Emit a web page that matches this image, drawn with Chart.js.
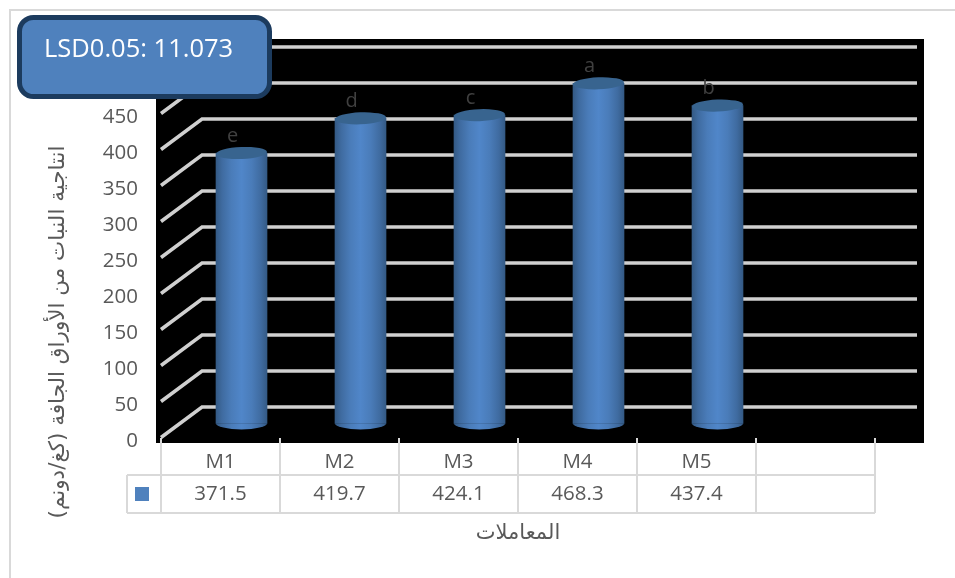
<!DOCTYPE html>
<html>
<head>
<meta charset="utf-8">
<title>chart</title>
<script src="https://cdn.jsdelivr.net/npm/chart.js@4"></script>
<style>
  html, body { margin: 0; padding: 0; background: #fff; }
  canvas { display: block; }
</style>
</head>
<body>
<canvas id="grafico" width="955" height="578"></canvas>
<script>
const categorias = ["M1", "M2", "M3", "M4", "M5", ""];
const valores = [371.5, 419.7, 424.1, 468.3, 437.4, null];
const letras = ["e", "d", "c", "a", "b", ""];
const ticksY = [0, 50, 100, 150, 200, 250, 300, 350, 400, 450, 500];
const tituloY = "انتاجية النبات من الأوراق الجافة (كغ/دونم)";
const tituloX = "المعاملات";
const textoLsd = "LSD0.05: 11.073";

const FONT = '"Open Sans", "Noto Sans", sans-serif';
const GRIS = "#595959";
const LINEA = "#d9d9d9";
const AZUL = "#4f81bd";
const anchoBarra = 51;

function caja(ctx, x, y, w, h, r){
  ctx.beginPath();
  ctx.roundRect(x, y, w, h, r);
}

function degradado(ctx, cx){
  const g = ctx.createLinearGradient(cx - anchoBarra/2, 0, cx + anchoBarra/2, 0);
  g.addColorStop(0, "#345a85");
  g.addColorStop(0.12, "#3f6ba0");
  g.addColorStop(0.3, "#4a7cb9");
  g.addColorStop(0.5, "#5086c9");
  g.addColorStop(0.7, "#4a7cb9");
  g.addColorStop(0.88, "#3f6ba0");
  g.addColorStop(1, "#345a85");
  return g;
}

// fondo negro, paredes 3D y rejilla
const fondo3d = {
  id: "fondo3d",
  beforeDraw(chart){
    const { ctx, scales: { x, y } } = chart;
    ctx.save();
    ctx.fillStyle = "#fff";
    ctx.fillRect(0, 0, 955, 578);
    ctx.strokeStyle = LINEA;
    ctx.lineWidth = 2;
    ctx.beginPath();
    ctx.moveTo(955, 10); ctx.lineTo(10, 10); ctx.lineTo(10, 578);
    ctx.stroke();
    ctx.fillStyle = "#000";
    ctx.fillRect(156, 39, 768, 404);
    ctx.strokeStyle = "#d0d0d0";
    ctx.lineWidth = 3.5;
    ticksY.forEach(t => {
      const py = y.getPixelForValue(t);
      ctx.beginPath();
      ctx.moveTo(x.left, py - 1);
      ctx.lineTo(x.left + 41, py - 31.5);
      ctx.lineTo(917, py - 31.5);
      ctx.stroke();
    });
    ctx.restore();
  },
  beforeDatasetsDraw(chart){
    // las barras van en mitad de la profundidad
    chart.ctx.save();
    chart.ctx.translate(21, -18);
  },
  afterDatasetsDraw(chart){
    const { ctx } = chart;
    const meta = chart.getDatasetMeta(0);
    meta.data.forEach((bar, i) => {
      if (valores[i] == null) return;
      ctx.fillStyle = degradado(ctx, bar.x);
      ctx.beginPath();
      ctx.ellipse(bar.x, bar.base, anchoBarra/2, 6, 0, 0, Math.PI);
      ctx.fill();
      ctx.fillStyle = "#38648f";
      ctx.beginPath();
      ctx.ellipse(bar.x, bar.y, anchoBarra/2, 6, -0.04, 0, Math.PI*2);
      ctx.fill();
    });
    ctx.restore();
  },
  afterDraw(chart){
    const { ctx, scales: { x, y } } = chart;
    ctx.save();

    // letras sobre las barras
    ctx.font = "20px " + FONT;
    ctx.textAlign = "center";
    ctx.textBaseline = "middle";
    ctx.fillStyle = "#404040";
    letras.forEach((l, i) => {
      if (!l) return;
      ctx.fillText(l, x.getPixelForValue(i) + 12, y.getPixelForValue(valores[i]) - 35);
    });

    // tabla de datos
    const paso = x.getPixelForValue(1) - x.getPixelForValue(0);
    ctx.strokeStyle = LINEA;
    ctx.lineWidth = 2;
    ctx.beginPath();
    for (let i = 0; i <= categorias.length; i++){
      const px = x.left + paso*i;
      ctx.moveTo(px, 438);
      ctx.lineTo(px, 513);
    }
    ctx.moveTo(127, 475); ctx.lineTo(x.right, 475);
    ctx.moveTo(127, 513); ctx.lineTo(x.right, 513);
    ctx.moveTo(127, 475); ctx.lineTo(127, 513);
    ctx.stroke();

    ctx.fillStyle = AZUL;
    ctx.fillRect(135, 487, 14, 14);

    ctx.font = "20.5px " + FONT;
    ctx.fillStyle = GRIS;
    valores.forEach((v, i) => {
      if (v == null) return;
      ctx.fillText(v.toFixed(1), x.getPixelForValue(i), 494);
    });

    // titulo eje Y
    ctx.save();
    ctx.translate(58, 332);
    ctx.rotate(-Math.PI/2);
    ctx.direction = "rtl";
    ctx.font = '21.5px "DejaVu Sans"';
    ctx.fillText(tituloY, 0, 0);
    ctx.restore();

    // cuadro LSD
    caja(ctx, 19.5, 17.5, 250, 79, 14);
    ctx.fillStyle = AZUL;
    ctx.fill();
    ctx.strokeStyle = "#1c3b5e";
    ctx.lineWidth = 5;
    ctx.stroke();
    ctx.fillStyle = "#fff";
    ctx.font = "25.5px " + FONT;
    ctx.textAlign = "left";
    ctx.fillText(textoLsd, 44, 50);

    ctx.restore();
  }
};

new Chart(document.getElementById("grafico"), {
  type: "bar",
  data: {
    labels: categorias,
    datasets: [{
      data: valores,
      base: -4,
      barThickness: anchoBarra,
      clip: false,
      backgroundColor: c => {
        const cx = c.chart.scales.x.getPixelForValue(c.dataIndex);
        return Number.isFinite(cx) ? degradado(c.chart.ctx, cx) : AZUL;
      }
    }]
  },
  options: {
    responsive: false,
    animation: false,
    layout: { padding: { top: 78.5, right: 80, left: 0, bottom: 0 } },
    plugins: { legend: { display: false }, tooltip: { enabled: false } },
    scales: {
      x: {
        grid: { display: false },
        border: { display: false },
        ticks: { color: GRIS, font: { family: FONT, size: 20.5 }, padding: 3, maxRotation: 0 },
        title: { display: true, text: tituloX, color: GRIS, font: { family: "DejaVu Sans", size: 21 }, padding: { top: 0, bottom: 32 } },
        afterFit(s){ s.height = 139.5; }
      },
      y: {
        min: 0,
        max: 500,
        afterBuildTicks(s){ s.ticks = ticksY.map(v => ({ value: v })); },
        grid: { display: false },
        border: { display: false },
        ticks: { color: GRIS, font: { family: FONT, size: 20.5 }, padding: 15, labelOffset: 2.5 },
        afterFit(s){ s.width = 161; }
      }
    }
  },
  plugins: [fondo3d]
});
</script>
</body>
</html>
